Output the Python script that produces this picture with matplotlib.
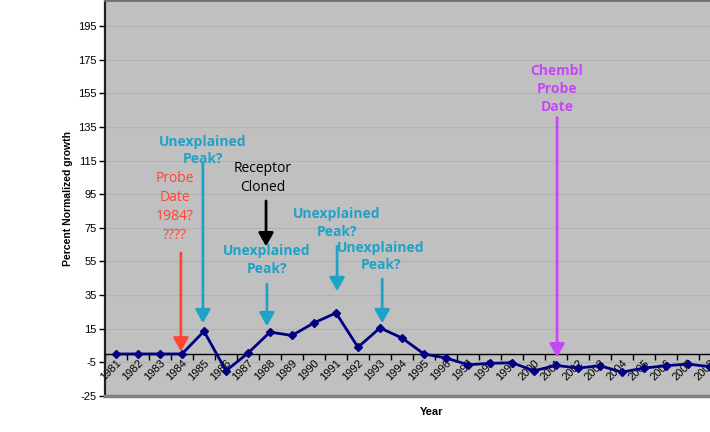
import numpy as np
import matplotlib.pyplot as plt
from matplotlib.ticker import FixedLocator

# Data
years = list(range(1981, 2011))
growth = [0, 0, 0, 0, 13.5, -10, 0.5, 13, 11, 18.5, 24.4, 4, 15.5, 9.5, 0,
          -2.4, -6.4, -5.6, -5.2, -10, -6.8, -8.4, -7, -10.8, -8.4, -7, -6,
          -7.6, -7, -6.5]
yticks = list(range(-25, 196, 20))

# Annotations: (text, colour, weight, text x, text y, arrow x, tail y, tip y)
notes = [
    ("Unexplained\nPeak?", "#1EA2C8", "bold", 3.95, 121, 3.95, 113.5, 18.3),
    ("Probe\nDate\n1984?\n????", "#FF4433", "normal", 2.68, 87.5, 2.95, 60, 1.5),
    ("Receptor\nCloned", "black", "normal", 6.68, 104.5, 6.82, 91, 64),
    ("Unexplained\nPeak?", "#1EA2C8", "bold", 6.86, 56, 6.86, 41.5, 16.5),
    ("Unexplained\nPeak?", "#1EA2C8", "bold", 10.05, 78, 10.05, 64, 37.4),
    ("Unexplained\nPeak?", "#1EA2C8", "bold", 12.05, 58, 12.1, 44.5, 18.3),
    ("Chembl\nProbe\nDate", "#C847F5", "bold", 20.05, 157.4, 20.05, 140.6, -2),
]

plt.rcParams['font.family'] = ['Liberation Sans', 'DejaVu Sans']
plt.rcParams['axes.unicode_minus'] = False

fig = plt.figure(figsize=(7.1, 4.32), dpi=100)
ax = fig.add_axes([105 / 710, 36 / 432, 660 / 710, 396 / 432])
ax.set_facecolor('#C0C0C0')

x = np.arange(len(years))
ax.set_xlim(-0.5, len(years) - 0.5)
ax.set_ylim(-25, 210.5)

for yv in yticks:
    ax.axhline(yv, color='#B2B2B2', lw=0.8, zorder=0)

ax.plot(x, growth, color='#000080', lw=2, marker='D', ms=4.5, zorder=4)

# spines
ax.spines['bottom'].set_position(('data', 0))
ax.spines['bottom'].set_color('black')
ax.spines['bottom'].set_linewidth(1.0)
ax.spines['left'].set_color('#202020')
ax.spines['left'].set_linewidth(1.6)
ax.spines['top'].set_color('#707070')
ax.spines['top'].set_linewidth(2)
ax.spines['right'].set_visible(False)
ax.axhline(-25, color='#808080', lw=2.5, clip_on=False, zorder=5)

# x ticks: marks between categories, labels at categories
ax.xaxis.set_major_locator(FixedLocator(np.arange(-0.5, len(years), 1)))
ax.xaxis.set_major_formatter(plt.NullFormatter())
ax.set_xticks(x, [str(y) for y in years], minor=True)
ax.tick_params(axis='x', which='major', length=4, width=1, direction='out')
ax.tick_params(axis='x', which='minor', length=0, labelsize=8, pad=3)
for lab in ax.get_xticklabels(minor=True):
    lab.set_rotation(45)
    lab.set_ha('right')
    lab.set_va('top')
    lab.set_rotation_mode('anchor')

ax.set_yticks(yticks)
ax.tick_params(axis='y', length=4, width=1, direction='out', labelsize=8, pad=2)

fig.text(68 / 710, (432 - 199) / 432, 'Percent Normalized growth', rotation=90,
         ha='center', va='center', fontsize=7.5, fontweight='bold')
fig.text(432 / 710, (432 - 412) / 432, 'Year', ha='center', va='center',
         fontsize=8, fontweight='bold')

for text, col, wt, tx, ty, axx, tail, tip in notes:
    ax.text(tx, ty, text, color=col, fontweight=wt, ha='center', va='center',
            fontsize=10, family=['Open Sans', 'DejaVu Sans'], linespacing=1.35,
            zorder=6)
    ax.annotate('', xy=(axx, tip), xytext=(axx, tail),
                arrowprops=dict(arrowstyle='-|>,head_length=0.8,head_width=0.45',
                                color=col, lw=2, shrinkA=0, shrinkB=0),
                zorder=6)

fig.savefig('out.png', dpi=100)
